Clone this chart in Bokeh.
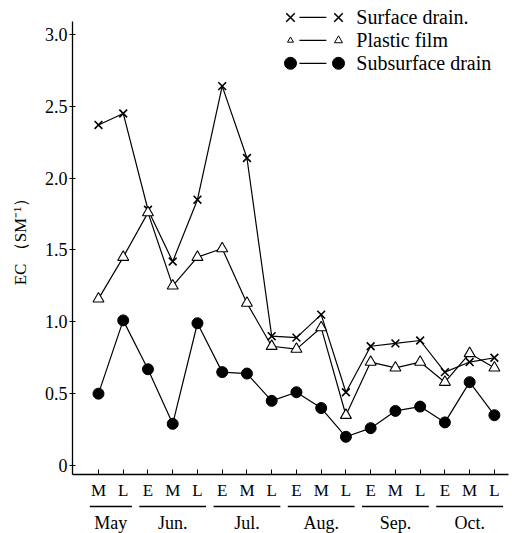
from bokeh.plotting import figure
from bokeh.layouts import column
from bokeh.models import FixedTicker, LinearAxis, Range1d
from bokeh.core.properties import value
from bokeh.embed import file_html
from bokeh.resources import INLINE

# ---- data ----
periods = ["M", "L", "E", "M", "L", "E", "M", "L", "E", "M", "L", "E", "M", "L", "E", "M", "L"]
months = ["May", "Jun.", "Jul.", "Aug.", "Sep.", "Oct."]
month_first = [0, 2, 5, 8, 11, 14]
month_last = [1, 4, 7, 10, 13, 16]
surface = [2.37, 2.45, 1.78, 1.42, 1.85, 2.64, 2.14, 0.90, 0.89, 1.05, 0.51, 0.83, 0.85, 0.87, 0.65, 0.72, 0.75]
plastic = [1.16, 1.45, 1.76, 1.25, 1.45, 1.51, 1.13, 0.83, 0.81, 0.96, 0.35, 0.72, 0.68, 0.72, 0.58, 0.78, 0.68]
subsurface = [0.50, 1.01, 0.67, 0.29, 0.99, 0.65, 0.64, 0.45, 0.51, 0.40, 0.20, 0.26, 0.38, 0.41, 0.30, 0.58, 0.35]
y_ticks = [0, 0.5, 1.0, 1.5, 2.0, 2.5, 3.0]
y_tick_labels = ["0", "0.5", "1.0", "1.5", "2.0", "2.5", "3.0"]
series_names = ["Surface drain.", "Plastic film", "Subsurface drain"]

FONT = "Liberation Serif"
xs = list(range(len(periods)))
xr = Range1d(-1.05, 16.57)

p = figure(width=512, height=502, output_backend="svg", toolbar_location=None,
           x_range=xr, y_range=Range1d(-0.0625, 3.236),
           min_border_left=72, min_border_right=4, min_border_top=0, min_border_bottom=27,
           x_axis_location=None, y_axis_location=None)
p.outline_line_color = None
p.grid.visible = False

# y axis
yax = LinearAxis(ticker=FixedTicker(ticks=y_ticks), bounds=(-0.0625, 3.09))
yax.major_label_overrides = {t: s for t, s in zip(y_ticks, y_tick_labels)}
yax.axis_label = "EC （SM⁻¹）"
yax.axis_label_text_font = FONT
yax.axis_label_text_font_style = "normal"
yax.axis_label_text_font_size = "17px"
yax.axis_label_text_color = "black"
yax.axis_label_standoff = 12
yax.major_label_text_font = FONT
yax.major_label_text_font_size = "18px"
yax.major_label_text_color = "black"
yax.major_label_standoff = 2
yax.major_tick_in = 3
yax.major_tick_out = 3
yax.minor_tick_line_color = None
yax.axis_line_width = 1.3
p.add_layout(yax, "left")

# x axis (periods)
xax = LinearAxis(ticker=FixedTicker(ticks=xs))
xax.major_label_overrides = {i: s for i, s in zip(xs, periods)}
xax.major_label_text_font = FONT
xax.major_label_text_font_size = "17px"
xax.major_label_text_color = "black"
xax.major_label_standoff = 6
xax.major_tick_in = 5
xax.major_tick_out = 0
xax.minor_tick_line_color = None
xax.axis_line_width = 1.3
p.add_layout(xax, "below")

# series
p.line(xs, surface, line_color="black", line_width=1.2)
p.line(xs, plastic, line_color="black", line_width=1.2)
p.line(xs, subsurface, line_color="black", line_width=1.2)
p.scatter(xs, surface, marker="x", size=11, line_color="black", line_width=1.6)
p.scatter(xs, plastic, marker="triangle", size=11, fill_color="white", line_color="black", line_width=1.1)
p.scatter(xs, subsurface, marker="circle", size=11, fill_color="black", line_color="black")

# legend (manual, drawn in data space)
leg_y = [3.118, 2.958, 2.799]
lx0, lx1, ls0, ls1, lt = 7.76, 9.70, 8.12, 9.21, 10.42
p.segment(x0=[ls0] * 3, y0=leg_y, x1=[ls1] * 3, y1=leg_y, line_color="black", line_width=1.2)
p.scatter([lx0, lx1], [leg_y[0]] * 2, marker="x", size=12, line_color="black", line_width=1.6)
p.scatter([lx0, lx1], [leg_y[1]] * 2, marker="triangle", size=[6, 8], fill_color="white",
          line_color="black", line_width=1.0)
p.scatter([lx0, lx1], [leg_y[2]] * 2, marker="circle", size=12, fill_color="black", line_color="black")
p.text([lt] * 3, leg_y, text=series_names, text_font=value(FONT), text_font_size="20px",
       text_baseline="middle", text_align="left", text_color="black")

# month strip (underlines + month names) sharing the x range
p2 = figure(width=512, height=31, output_backend="svg", toolbar_location=None,
            x_range=xr, y_range=Range1d(31, 0),
            min_border_left=72, min_border_right=4, min_border_top=0, min_border_bottom=0,
            x_axis_location=None, y_axis_location=None)
p2.outline_line_color = None
p2.grid.visible = False
p2.segment(x0=[a - 0.35 for a in month_first], y0=[4] * 6, x1=[b + 0.35 for b in month_last], y1=[4] * 6,
           line_color="black", line_width=1.3)
centers = [(a + b) / 2 for a, b in zip(month_first, month_last)]
p2.text(centers, [20] * 6, text=months, text_font=value(FONT), text_font_size="18px",
        text_baseline="middle", text_align="center", text_color="black")

layout = column(p, p2, spacing=0)
open("out.html", "w").write(file_html(layout, INLINE))
